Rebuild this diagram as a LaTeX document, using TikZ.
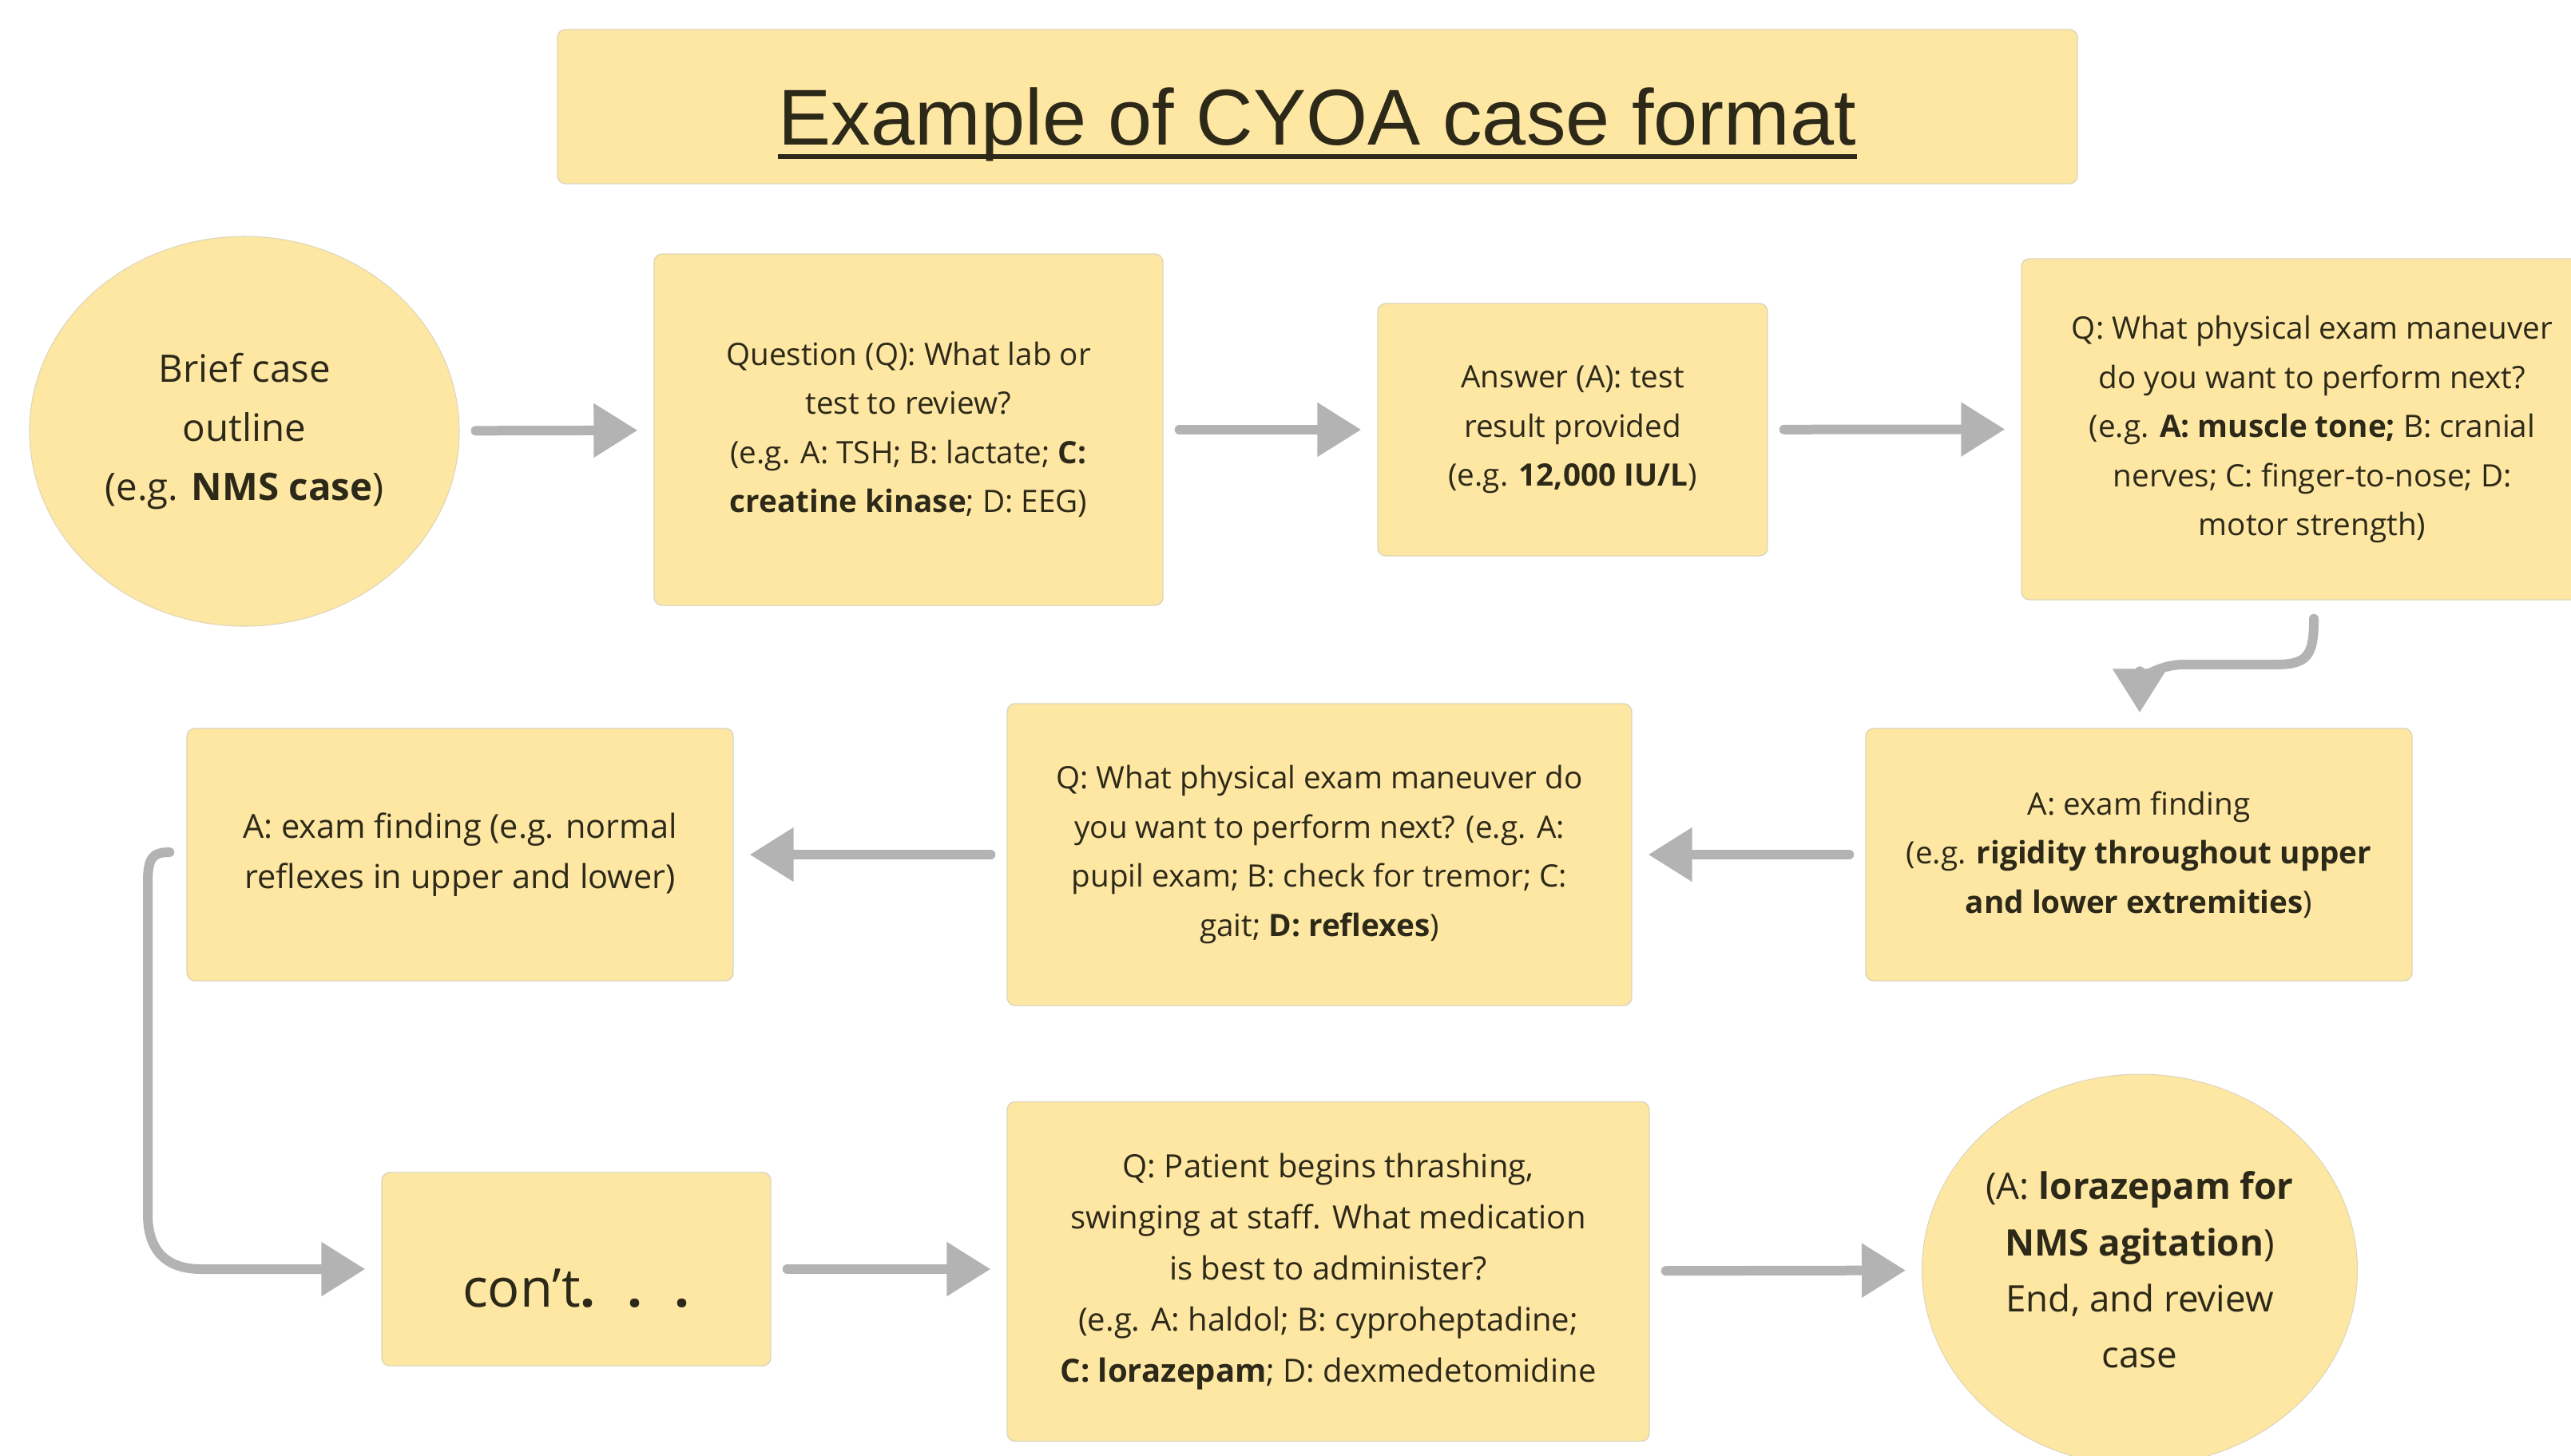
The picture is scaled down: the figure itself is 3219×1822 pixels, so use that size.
\documentclass[tikz,border=0pt]{standalone}
\usepackage{fontspec}
\setmainfont{Open Sans}
\newfontfamily\titlefont{Liberation Sans}
\usetikzlibrary{arrows.meta,shapes.geometric,calc}
\definecolor{cyoayellow}{HTML}{FDE7A3}
\definecolor{cyoaedge}{HTML}{DDD5BA}
\definecolor{cyoagray}{HTML}{B3B3B3}
\definecolor{cyoaink}{HTML}{2D2919}
\tikzset{cyoabox/.style={rectangle,rounded corners=1mm,fill=cyoayellow,draw=cyoaedge,
    line width=0.4pt,align=center,text=cyoaink,inner sep=0pt,
    font=\fontsize{11}{17.5}\selectfont}}
\tikzset{cyoabubble/.style={ellipse,fill=cyoayellow,draw=cyoaedge,line width=0.3pt,
    align=center,text=cyoaink,inner sep=0pt}}
\tikzset{cyoaflow/.style={draw=cyoagray,line width=1.2mm,line cap=round,
    -{Triangle[length=5.5mm,width=6.5mm]},shorten <=2mm,shorten >=2mm}}

\begin{document}
\begin{tikzpicture}[x=0.1mm,y=-0.1mm]
  \useasboundingbox (0,0) rectangle (3219,1822);

  % title
  \node[cyoabox,minimum width=190.3mm,minimum height=19.3mm] (title) at (1649.5,133.5) {};
  \node[anchor=base,inner sep=0pt,text=cyoaink,font=\titlefont\fontsize{28.2}{34}\selectfont]
    (titletext) at (1649.5,181) {Example of CYOA case format};
  \draw[cyoaink,line width=0.6mm] ($(titletext.base west)+(0,15)$) -- ($(titletext.base east)+(0,15)$);

  % first row
  \node[cyoabubble,minimum width=53.8mm,minimum height=48.8mm,font=\fontsize{13.5}{21}\selectfont]
    (brief) at (306,540) {Brief case\\outline\\(e.g. \textbf{NMS case})};
  \node[cyoabox,minimum width=63.7mm,minimum height=44mm] (q1) at (1137.5,538)
    {Question (Q): What lab or\\test to review?\\(e.g. A: TSH; B: lactate; \textbf{C:}\\\textbf{creatine kinase}; D: EEG)};
  \node[cyoabox,minimum width=48.8mm,minimum height=31.6mm] (a1) at (1969,538)
    {Answer (A): test\\result provided\\(e.g. \textbf{12,000 IU/L})};
  \node[cyoabox,minimum width=72.8mm,minimum height=42.7mm] (q2) at (2895,537.5)
    {Q: What physical exam maneuver\\do you want to perform next?\\(e.g. \textbf{A: muscle tone;} B: cranial\\nerves; C: finger-to-nose; D:\\motor strength)};

  % second row
  \node[cyoabox,minimum width=68.4mm,minimum height=31.6mm] (a2) at (2678,1070)
    {A: exam finding\\(e.g. \textbf{rigidity throughout upper}\\\textbf{and lower extremities})};
  \node[cyoabox,minimum width=78.2mm,minimum height=37.8mm] (q3) at (1652,1070)
    {Q: What physical exam maneuver do\\you want to perform next? (e.g. A:\\pupil exam; B: check for tremor; C:\\gait; \textbf{D: reflexes})};
  \node[cyoabox,minimum width=68.4mm,minimum height=31.6mm,font=\fontsize{11.8}{18.1}\selectfont]
    (a3) at (576,1070) {A: exam finding (e.g. normal\\reflexes in upper and lower)};

  % third row
  \node[cyoabox,minimum width=48.7mm,minimum height=24.2mm,font=\fontsize{19}{22}\selectfont,
    text height=9.4mm,text depth=0pt] (cont) at (721.5,1589)
    {con’t\textbf{.\hspace{0.6em}.\hspace{0.6em}.}};
  \node[cyoabox,minimum width=80.4mm,minimum height=42.5mm,font=\fontsize{11.4}{18.2}\selectfont]
    (q4) at (1663,1592) {Q: Patient begins thrashing,\\swinging at staff. What medication\\is best to administer?\\(e.g. A: haldol; B: cyproheptadine;\\\textbf{C: lorazepam}; D: dexmedetomidine};
  \node[cyoabubble,minimum width=53.8mm,minimum height=49mm,font=\fontsize{13}{20}\selectfont]
    (finale) at (2679,1590) {(A: \textbf{lorazepam for}\\\textbf{NMS agitation})\\End, and review\\case};

  % connectors
  \draw[cyoaflow] (brief) -- (q1);
  \draw[cyoaflow] (q1) -- (a1);
  \draw[cyoaflow] (a1) -- (q2.west);
  \draw[cyoaflow,shorten <=0pt,shorten >=0pt] ($(q2.south)+(2,23)$)
    .. controls +(0,45) and +(40,0) .. (2850,832) -- (2735,832)
    .. controls +(-40,0) and +(0,-35) .. ($(a2.north)+(1,-19)$);
  \draw[cyoaflow] (a2) -- (q3);
  \draw[cyoaflow] (q3) -- (a3);
  \draw[cyoaflow,shorten <=0pt] ($(a3.west)+(-21,-3)$)
    .. controls +(-22,0) and +(0,-30) .. (185,1105) -- (185,1520)
    .. controls +(0,45) and +(-45,0) .. (252,1589) -- (cont.west);
  \draw[cyoaflow] (cont.east) -- (cont.east -| q4.west);
  \draw[cyoaflow] (q4) -- (finale);
\end{tikzpicture}
\end{document}
